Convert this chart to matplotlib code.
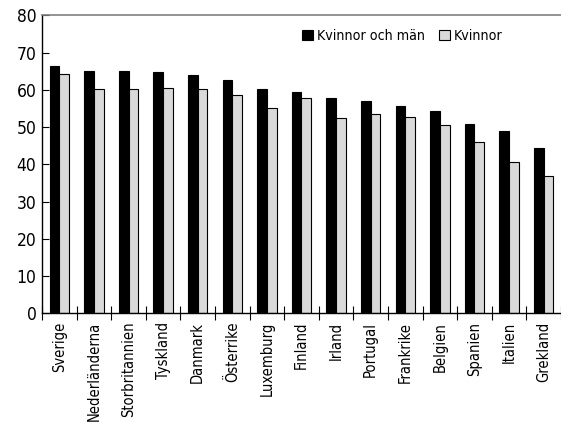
import numpy as np
import matplotlib
matplotlib.use("Agg")
import matplotlib.pyplot as plt

plt.rcParams['font.family'] = ['DejaVu Sans']
plt.rcParams['font.stretch'] = 'condensed'

lander = ["Sverige", "Nederländerna", "Storbritannien", "Tyskland", "Danmark",
          "Österrike", "Luxemburg", "Finland", "Irland", "Portugal",
          "Frankrike", "Belgien", "Spanien", "Italien", "Grekland"]
kvinnor_och_man = [66.4, 65.2, 65.1, 64.9, 63.9, 62.8, 60.2, 59.5, 57.9, 57.1,
                   55.8, 54.3, 50.9, 49.0, 44.4]
kvinnor = [64.3, 60.2, 60.2, 60.5, 60.3, 58.7, 55.2, 57.9, 52.5, 53.6,
           52.7, 50.7, 46.0, 40.6, 36.9]

fig = plt.figure(figsize=(5.61, 4.23), dpi=100)
ax = fig.add_axes([0.0749, 0.2593, 0.925, 0.7041])

x = np.arange(len(lander))
w = 0.28
ax.bar(x - w / 2, kvinnor_och_man, w, color="black", edgecolor="black",
       linewidth=0.8, label="Kvinnor och män")
ax.bar(x + w / 2, kvinnor, w, color="#d9d9d9", edgecolor="black",
       linewidth=0.8, label="Kvinnor")

ax.set_xlim(-0.5, len(lander) - 0.5)
ax.set_ylim(0, 80)
ax.set_yticks(np.arange(0, 81, 10))
ax.set_xticks(np.arange(len(lander) + 1) - 0.5)
ax.set_xticklabels([])
ax.set_xticks(x, minor=True)
ax.set_xticklabels(lander, minor=True, rotation=90, fontsize=10.5)
ax.tick_params(axis="x", which="minor", length=0, pad=6)
ax.tick_params(axis="x", which="major", direction="inout", length=10, width=0.8)
ax.tick_params(axis="y", direction="in", length=5, width=0.8, labelsize=12.5, pad=4)

ax.spines["right"].set_visible(False)
ax.spines["top"].set_color("#808080")
ax.spines["top"].set_linewidth(1.2)
ax.spines["left"].set_linewidth(1.0)
ax.spines["bottom"].set_linewidth(1.0)

ax.legend(loc="upper left", bbox_to_anchor=(0.49, 0.973), ncol=2, frameon=False,
          fontsize=10.2, handlelength=0.75, handleheight=0.75, handletextpad=0.3,
          columnspacing=1.0, borderaxespad=0)

fig.savefig("out.png", dpi=100)
